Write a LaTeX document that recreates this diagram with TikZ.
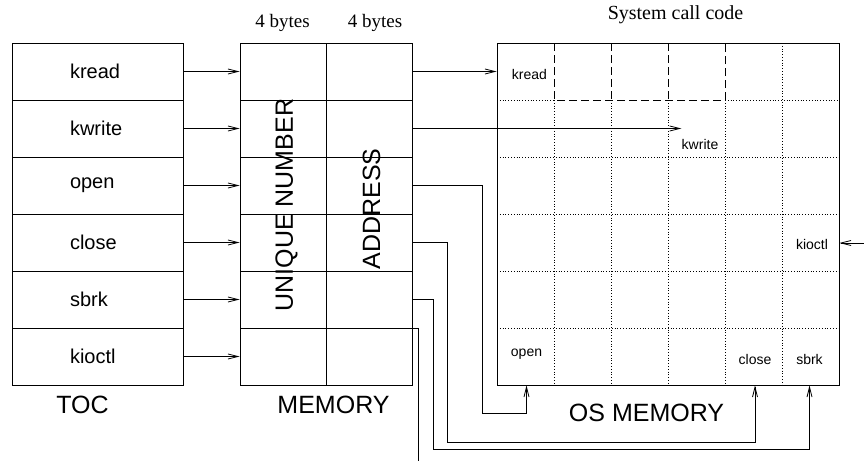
\documentclass[tikz,border=0pt]{standalone}
\usepackage{fontspec}
\setmainfont{Liberation Serif}
\setsansfont{Liberation Sans}
\usetikzlibrary{arrows.meta}

\begin{document}
\begin{tikzpicture}[
    x=1pt,
    y=-1pt,
    line width=.8pt,
    >={Straight Barb[length=10pt,width=5pt]},
    cell/.style={draw,minimum width=86pt,minimum height=57pt,inner sep=0pt},
    tocrow/.style={draw,minimum width=171pt,minimum height=57pt,text width=55pt,inner xsep=58pt,align=left,font=\sffamily\fontsize{20}{24}\selectfont},
    biglabel/.style={font=\sffamily\fontsize{25}{30}\selectfont,inner sep=0pt},
    smalllabel/.style={font=\sffamily\fontsize{14}{17}\selectfont,inner sep=0pt},
    bytes/.style={font=\fontsize{19}{23}\selectfont,inner sep=0pt,anchor=base},
    longdash/.style={dash pattern=on 8pt off 4pt},
  ]
  \useasboundingbox (0,0) rectangle (864,461);
  \foreach \name [count=\i] in {kread,kwrite,open,close,sbrk,kioctl} {
    \node[tocrow] (toc-\i) at (97.5,14.5+57*\i) {\name};
    \node[cell] (mem-\i-1) at (283,14.5+57*\i) {};
    \node[cell] (mem-\i-2) at (369,14.5+57*\i) {};
    \draw[->] (toc-\i) -- (mem-\i-1);
  }
  \node[biglabel,rotate=90] (uniq) at (286.5,205) {UNIQUE NUMBER};
  \node[biglabel,rotate=90] (addr) at (371.5,209) {ADDRESS};
  \node[bytes] (bytes-1) at (282.5,27.5) {4 bytes};
  \node[bytes] (bytes-2) at (375,27.5) {4 bytes};
  \node[biglabel] (toclabel) at (82.5,405) {TOC};
  \node[biglabel] (memlabel) at (333.5,405) {MEMORY};

  \node[draw,minimum width=342pt,minimum height=342pt,inner sep=0pt] (os) at (668,214) {};
  \foreach \k in {1,...,4} {
    \draw[dotted] (497+57*\k,100) -- (497+57*\k,385);
  }
  \draw[dotted] (782,43) -- (782,385);
  \foreach \k in {2,...,5} {
    \draw[dotted] (497,43+57*\k) -- (839,43+57*\k);
  }
  \draw[dotted] (497,100) -- (554,100);
  \draw[dotted] (725,100) -- (839,100);
  \draw[longdash] (554,43) -- (554,100) -- (725,100) -- (725,43);
  \draw[longdash] (611,43) -- (611,100);
  \draw[longdash] (668,43) -- (668,100);
  \node[font=\fontsize{20}{24}\selectfont,inner sep=0pt,anchor=base] (title) at (675.5,19.5) {System call code};
  \node[biglabel] (oslabel) at (646.5,412.5) {OS MEMORY};

  \node[smalllabel] (kr) at (529.5,74.5) {kread};
  \node[smalllabel] (kw) at (700,144.7) {kwrite};
  \node[smalllabel] (ki) at (812,244.7) {kioctl};
  \node[smalllabel] (op) at (526.5,354) {open};
  \node[smalllabel] (cl) at (755,359) {close};
  \node[smalllabel] (sb) at (809.5,359) {sbrk};

  \coordinate (kin) at (864,243);
  \coordinate (tail) at (418,461);
  \draw[->] (mem-1-2.east) -- (mem-1-2.east -| os.west);
  \draw[->] (mem-2-2.east) -- (mem-2-2.east -| kw.west);
  \draw[->] (mem-3-2.east) -| (482,413) -| (op |- os.south);
  \draw[->] (mem-4-2.east) -| (447,442) -| (cl |- os.south);
  \draw[->] (mem-5-2.east) -| (433,449) -| (sb |- os.south);
  \draw (mem-5-2.south east) -| (tail);
  \draw[->] (kin) -- (os.east |- kin);
\end{tikzpicture}
\end{document}
